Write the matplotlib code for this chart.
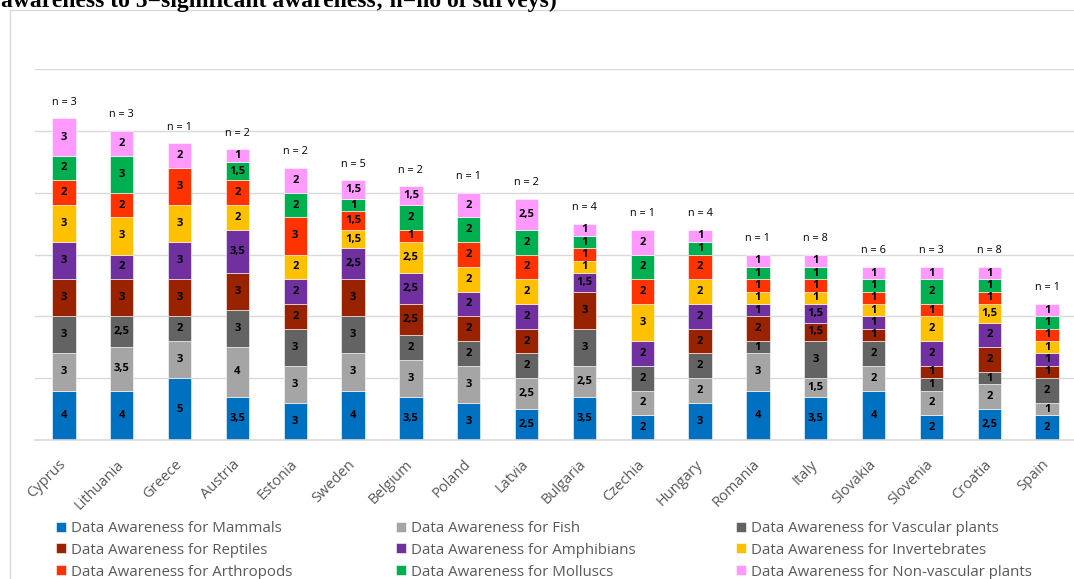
import matplotlib
matplotlib.use("Agg")
import matplotlib.pyplot as plt
from matplotlib.patches import Rectangle

countries = ["Cyprus", "Lithuania", "Greece", "Austria", "Estonia", "Sweden",
             "Belgium", "Poland", "Latvia", "Bulgaria", "Czechia", "Hungary",
             "Romania", "Italy", "Slovakia", "Slovenia", "Croatia", "Spain"]
n_surveys = [3, 3, 1, 2, 2, 5, 2, 1, 2, 4, 1, 4, 1, 8, 6, 3, 8, 1]

mammals       = [4, 4, 5, 3.5, 3, 4, 3.5, 3, 2.5, 3.5, 2, 3, 4, 3.5, 4, 2, 2.5, 2]
fish          = [3, 3.5, 3, 4, 3, 3, 3, 3, 2.5, 2.5, 2, 2, 3, 1.5, 2, 2, 2, 1]
vascular      = [3, 2.5, 2, 3, 3, 3, 2, 2, 2, 3, 2, 2, 1, 3, 2, 1, 1, 2]
reptiles      = [3, 3, 3, 3, 2, 3, 2.5, 2, 2, 3, 0, 2, 2, 1.5, 1, 1, 2, 1]
amphibians    = [3, 2, 3, 3.5, 2, 2.5, 2.5, 2, 2, 1.5, 2, 2, 1, 1.5, 1, 2, 2, 1]
invertebrates = [3, 3, 3, 2, 2, 1.5, 2.5, 2, 2, 1, 3, 2, 1, 1, 1, 2, 1.5, 1]
arthropods    = [2, 2, 3, 2, 3, 1.5, 1, 2, 2, 1, 2, 2, 1, 1, 1, 1, 1, 1]
molluscs      = [2, 3, 0, 1.5, 2, 1, 2, 2, 2, 1, 2, 1, 1, 1, 1, 2, 1, 1]
nonvascular   = [3, 2, 2, 1, 2, 1.5, 1.5, 2, 2.5, 1, 2, 1, 1, 1, 1, 1, 1, 1]

series_names = ["Mammals", "Fish", "Vascular plants", "Reptiles", "Amphibians",
                "Invertebrates", "Arthropods", "Molluscs", "Non-vascular plants"]
series_values = [mammals, fish, vascular, reptiles, amphibians,
                 invertebrates, arthropods, molluscs, nonvascular]
series_colors = ["#0070C0", "#A5A5A5", "#636363", "#992200", "#7030A0",
                 "#FFC000", "#FF3300", "#00B050", "#FF99FF"]

title_tail = "awareness to 5=significant awareness; n=no of surveys)"

W, H = 1074, 579
fig = plt.figure(figsize=(W / 100, H / 100), dpi=100)
fig.patch.set_facecolor("white")

# chart frame
fig.patches.append(Rectangle((10 / W, -0.1), 1.2, (H - 10) / H + 0.1,
                             transform=fig.transFigure, fill=False,
                             edgecolor="#D9D9D9", lw=1.0))

# caption line running above the frame
fig.text(1 / W, (H - 7) / H, title_tail, family="Liberation Serif",
         fontweight="bold", fontsize=17, ha="left", va="baseline", color="black")

ax = fig.add_axes([35 / W, 139 / H, 1041 / W, 371 / H])
x = list(range(len(countries)))
bottom = [0.0] * len(countries)
containers = []
for name, vals, col in zip(series_names, series_values, series_colors):
    bc = ax.bar(x, vals, width=0.405, bottom=bottom, color=col,
                edgecolor="white", linewidth=0.4,
                label="Data Awareness for " + name, zorder=2)
    labels = [("" if v == 0 else f"{v:g}".replace(".", ",")) for v in vals]
    ax.bar_label(bc, labels=labels, label_type="center", fontsize=8,
                 fontweight="bold", family="Open Sans", color="black")
    containers.append(bc)
    bottom = [b + v for b, v in zip(bottom, vals)]

for xi, tot, n in zip(x, bottom, n_surveys):
    ax.annotate(f"n = {n}", (xi, tot), xytext=(0, 11.5), textcoords="offset points",
                ha="center", va="center", fontsize=7.8, family="Open Sans",
                color="black")

ax.set_xlim(-0.5, len(countries) - 0.5)
ax.set_ylim(0, 30)
ax.set_yticks(range(0, 31, 5))
ax.set_yticklabels([])
ax.grid(axis="y", color="#D9D9D9", lw=1.0, zorder=0)
ax.set_axisbelow(True)
for s in ["top", "right", "left"]:
    ax.spines[s].set_visible(False)
ax.spines["bottom"].set_color("#D9D9D9")
ax.spines["bottom"].set_linewidth(1.2)
ax.tick_params(axis="both", length=0)
ax.set_xticks(x)
ax.set_xticklabels(countries, rotation=45, ha="right", va="center",
                   rotation_mode="anchor", fontsize=10.5, family="Open Sans",
                   color="#595959")
ax.tick_params(axis="x", pad=16)
ax.set_facecolor("none")

# legend in three columns, filled row by row
col_x = [56, 396, 736]
for c in range(3):
    hs = [containers[r * 3 + c] for r in range(3)]
    ls = [h.get_label() for h in hs]
    fig.legend(hs, ls, loc="upper left",
               bbox_to_anchor=(col_x[c] / W, (H - 521) / H),
               bbox_transform=fig.transFigure, frameon=False,
               handlelength=0.65, handleheight=0.65, handletextpad=0.35,
               labelspacing=0.45, borderpad=0, borderaxespad=0,
               prop={"family": "Open Sans", "size": 10.8},
               labelcolor="#595959")

fig.savefig("out.png", dpi=100, facecolor="white")
